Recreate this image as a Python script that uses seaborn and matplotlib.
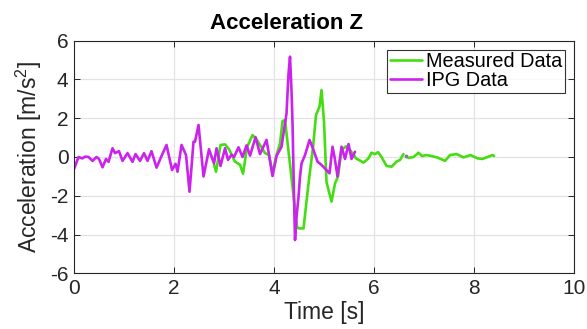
import numpy as np
import pandas as pd
import matplotlib
matplotlib.use("Agg")
import matplotlib.pyplot as plt
import seaborn as sns

# IPG simulation trace (time [s], vertical acceleration [m/s^2])
ipg_t = [0.00, 0.09, 0.17, 0.22, 0.29, 0.37, 0.45, 0.50, 0.57, 0.64, 0.69, 0.77,
         0.82, 0.90, 0.97, 1.07, 1.17, 1.23, 1.32, 1.40, 1.47, 1.55, 1.65, 1.75,
         1.85, 1.96, 2.03, 2.07, 2.15, 2.24, 2.31, 2.39, 2.42, 2.49, 2.59, 2.70,
         2.74, 2.80, 2.85, 2.93, 3.02, 3.08, 3.15, 3.20, 3.29, 3.37, 3.45, 3.52,
         3.63, 3.72, 3.85, 3.97, 4.05, 4.15, 4.25, 4.29, 4.32, 4.35, 4.37, 4.40,
         4.42, 4.45, 4.49, 4.52, 4.55, 4.62, 4.71, 4.77, 4.87, 4.95, 5.02, 5.11,
         5.17, 5.21, 5.27, 5.35, 5.42, 5.49, 5.55, 5.62]
ipg_a = [-0.62, 0.00, -0.07, 0.02, 0.00, -0.20, 0.00, -0.10, -0.53, -0.10, -0.25, 0.45,
         0.20, 0.30, -0.20, 0.20, -0.25, 0.15, -0.20, 0.20, -0.20, 0.30, -0.55, 0.05,
         0.62, -0.67, -0.35, -0.76, 0.62, 0.10, -1.79, 0.79, 0.79, 1.65, -1.00, 0.40,
         0.10, -0.33, 0.45, -0.46, 0.45, -0.15, 0.12, 0.00, 0.50, 0.00, 0.60, 0.07,
         1.02, 0.15, 0.88, -0.98, 0.05, 0.53, 2.25, 4.30, 5.17, 3.40, 1.74, -2.05,
         -4.28, -3.08, -2.05, -1.00, -0.33, 0.10, 0.88, 0.50, -0.24, -0.41, -0.60, -0.84,
         0.53, 0.00, -1.00, 0.53, -0.10, 0.67, -0.10, 0.27]

# Measured trace, recorded in two pieces with a short dropout between them
meas1_t = [2.80, 2.84, 2.93, 3.02, 3.10, 3.22, 3.32, 3.38, 3.46, 3.57, 3.64, 3.72,
           3.82, 3.90, 3.97, 4.05, 4.12, 4.17, 4.22, 4.46, 4.49, 4.59, 4.69, 4.78,
           4.84, 4.91, 4.95, 5.00, 5.05, 5.15, 5.22, 5.28, 5.35, 5.44, 5.52, 5.64,
           5.79, 5.89, 5.95, 6.02, 6.08, 6.15, 6.25, 6.35, 6.45, 6.52, 6.59]
meas1_a = [-0.40, -0.76, 0.62, 0.65, 0.40, -0.24, -0.40, -0.86, 0.50, 1.13, 0.95, 0.62,
           0.20, 0.10, -0.84, 0.10, 0.70, 1.85, 1.90, -3.60, -3.68, -3.68, -1.36, 0.50,
           2.16, 2.60, 3.45, 1.80, -1.30, -2.30, -1.36, -1.00, 0.36, 0.55, 0.36, -0.07,
           -0.29, -0.07, 0.22, 0.15, 0.25, 0.00, -0.46, -0.50, -0.24, -0.15, 0.15]
meas2_t = [6.69, 6.79, 6.89, 6.96, 7.05, 7.15, 7.27, 7.42, 7.52, 7.65, 7.79, 7.93,
           8.07, 8.17, 8.27, 8.37, 8.40]
meas2_a = [-0.05, 0.00, 0.22, 0.05, 0.10, 0.05, -0.03, -0.20, 0.10, 0.15, -0.02, 0.10,
           -0.07, -0.10, 0.00, 0.10, 0.05]

# Isolated sample inside the dropout
gap_t = [6.64]
gap_a = [0.05]

green = "#44dd11"
magenta = "#cc22ee"
axis_gray = "#262626"

sns.set_theme(style="whitegrid")
plt.rcParams["font.family"] = ["Liberation Sans", "DejaVu Sans"]
plt.rcParams["mathtext.fontset"] = "custom"
plt.rcParams["mathtext.rm"] = "Liberation Sans"
plt.rcParams["mathtext.it"] = "Liberation Sans:italic"
plt.rcParams["axes.unicode_minus"] = False

fig = plt.figure(figsize=(5.87, 3.29), dpi=100)
ax = fig.add_axes([0.1261, 0.169, 0.8518, 0.7076])

df_m1 = pd.DataFrame({"t": meas1_t, "a": meas1_a})
df_m2 = pd.DataFrame({"t": meas2_t, "a": meas2_a})
df_ipg = pd.DataFrame({"t": ipg_t, "a": ipg_a})

sns.lineplot(data=df_m1, x="t", y="a", ax=ax, color=green, lw=1.9,
             label="Measured Data", estimator=None, sort=False)
sns.lineplot(data=df_m2, x="t", y="a", ax=ax, color=green, lw=1.9,
             legend=False, estimator=None, sort=False)
sns.lineplot(data=df_ipg, x="t", y="a", ax=ax, color=magenta, lw=1.9,
             label="IPG Data", estimator=None, sort=False)
sns.scatterplot(x=gap_t, y=gap_a, ax=ax, color="#808080", s=8, linewidth=0,
                legend=False, zorder=5)

ax.set_xlim(0, 10)
ax.set_ylim(-6, 6)
ax.set_xticks([0, 2, 4, 6, 8, 10])
ax.set_yticks([-6, -4, -2, 0, 2, 4, 6])
ax.grid(True, color="#e3e3e3", lw=0.9)
ax.set_facecolor("white")
for s in ax.spines.values():
    s.set_visible(True)
    s.set_color(axis_gray)
    s.set_linewidth(0.8)
ax.tick_params(direction="in", length=4, width=0.7, color=axis_gray,
               labelsize=15, labelcolor=axis_gray, top=True, right=True,
               bottom=True, left=True, pad=4)

ax.set_xlabel("Time [s]", fontsize=16.5, color=axis_gray, labelpad=2)
ax.set_ylabel("Acceleration [m/s$^2$]", fontsize=16.5, color=axis_gray, labelpad=4)
ax.set_title("Acceleration Z", fontsize=16, fontweight="bold", color="black",
             x=0.424, pad=8)

leg = ax.legend(loc="upper right", fontsize=14.3, frameon=True, fancybox=False,
                edgecolor="black", borderpad=0.12, handlelength=1.65,
                handletextpad=0.2, labelspacing=0.02, borderaxespad=0.45)
leg.get_frame().set_linewidth(0.8)
for txt in leg.get_texts():
    txt.set_color("black")

fig.savefig("out.png", dpi=100)
